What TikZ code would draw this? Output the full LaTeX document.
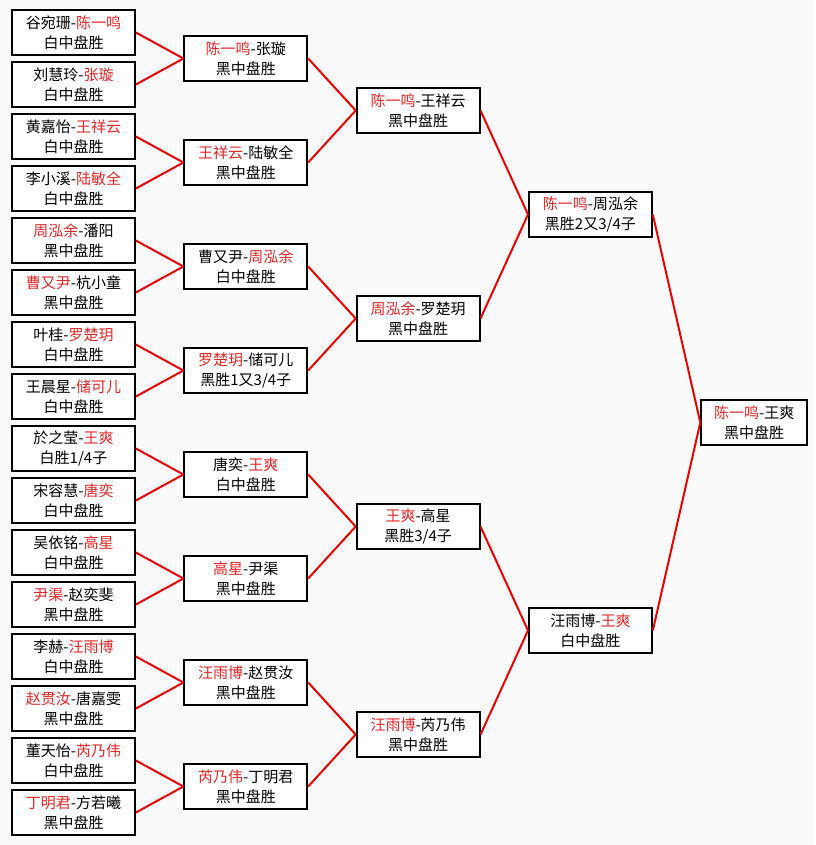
\documentclass[tikz,border=0pt]{standalone}
\usepackage{fontspec}
\setmainfont{Noto Sans CJK SC}
\usetikzlibrary{positioning,calc}
\definecolor{winred}{rgb}{0.88,0.16,0.16}
\definecolor{linkred}{rgb}{0.9,0,0}
\newcommand{\winner}[1]{\textcolor{winred}{#1}}

\begin{document}
\begin{tikzpicture}[x=1pt,y=-1pt,node distance=5.2pt,
  game/.style={draw,line width=1.8pt,fill=white,minimum width=123pt,minimum height=45pt,align=center,inner sep=1pt,font=\fontsize{15}{20}\selectfont},
  link/.style={draw=linkred,line width=2pt}]

\useasboundingbox[fill=black!2] (0,0) rectangle (815,845);

\node[game] (a1) at (73.5,32.5) {谷宛珊-\winner{陈一鸣}\\白中盘胜};
\node[game,below=of a1] (a2) {刘慧玲-\winner{张璇}\\白中盘胜};
\node[game,below=of a2] (a3) {黄嘉怡-\winner{王祥云}\\白中盘胜};
\node[game,below=of a3] (a4) {李小溪-\winner{陆敏全}\\白中盘胜};
\node[game,below=of a4] (a5) {\winner{周泓余}-潘阳\\黑中盘胜};
\node[game,below=of a5] (a6) {\winner{曹又尹}-杭小童\\黑中盘胜};
\node[game,below=of a6] (a7) {叶桂-\winner{罗楚玥}\\白中盘胜};
\node[game,below=of a7] (a8) {王晨星-\winner{储可儿}\\白中盘胜};
\node[game,below=of a8] (a9) {於之莹-\winner{王爽}\\白胜1/4子};
\node[game,below=of a9] (a10) {宋容慧-\winner{唐奕}\\白中盘胜};
\node[game,below=of a10] (a11) {吴依铭-\winner{高星}\\白中盘胜};
\node[game,below=of a11] (a12) {\winner{尹渠}-赵奕斐\\黑中盘胜};
\node[game,below=of a12] (a13) {李赫-\winner{汪雨博}\\白中盘胜};
\node[game,below=of a13] (a14) {\winner{赵贯汝}-唐嘉雯\\黑中盘胜};
\node[game,below=of a14] (a15) {董天怡-\winner{芮乃伟}\\白中盘胜};
\node[game,below=of a15] (a16) {\winner{丁明君}-方若曦\\黑中盘胜};

\node[game,anchor=west] (b1) at ($(a1.east)!0.5!(a2.east)+(47.5,0)$) {\winner{陈一鸣}-张璇\\黑中盘胜};
\node[game,anchor=west] (b2) at ($(a3.east)!0.5!(a4.east)+(47.5,0)$) {\winner{王祥云}-陆敏全\\黑中盘胜};
\node[game,anchor=west] (b3) at ($(a5.east)!0.5!(a6.east)+(47.5,0)$) {曹又尹-\winner{周泓余}\\白中盘胜};
\node[game,anchor=west] (b4) at ($(a7.east)!0.5!(a8.east)+(47.5,0)$) {\winner{罗楚玥}-储可儿\\黑胜1又3/4子};
\node[game,anchor=west] (b5) at ($(a9.east)!0.5!(a10.east)+(47.5,0)$) {唐奕-\winner{王爽}\\白中盘胜};
\node[game,anchor=west] (b6) at ($(a11.east)!0.5!(a12.east)+(47.5,0)$) {\winner{高星}-尹渠\\黑中盘胜};
\node[game,anchor=west] (b7) at ($(a13.east)!0.5!(a14.east)+(47.5,0)$) {\winner{汪雨博}-赵贯汝\\黑中盘胜};
\node[game,anchor=west] (b8) at ($(a15.east)!0.5!(a16.east)+(47.5,0)$) {\winner{芮乃伟}-丁明君\\黑中盘胜};

\node[game,anchor=west] (c1) at ($(b1.east)!0.5!(b2.east)+(47.5,0)$) {\winner{陈一鸣}-王祥云\\黑中盘胜};
\node[game,anchor=west] (c2) at ($(b3.east)!0.5!(b4.east)+(47.5,0)$) {\winner{周泓余}-罗楚玥\\黑中盘胜};
\node[game,anchor=west] (c3) at ($(b5.east)!0.5!(b6.east)+(47.5,0)$) {\winner{王爽}-高星\\黑胜3/4子};
\node[game,anchor=west] (c4) at ($(b7.east)!0.5!(b8.east)+(47.5,0)$) {\winner{汪雨博}-芮乃伟\\黑中盘胜};

\node[game,anchor=west] (d1) at ($(c1.east)!0.5!(c2.east)+(47.5,0)$) {\winner{陈一鸣}-周泓余\\黑胜2又3/4子};
\node[game,anchor=west] (d2) at ($(c3.east)!0.5!(c4.east)+(47.5,0)$) {汪雨博-\winner{王爽}\\白中盘胜};

\node[game,anchor=west,minimum width=106pt] (e1) at ($(d1.east)!0.5!(d2.east)+(47.5,0)$) {\winner{陈一鸣}-王爽\\黑中盘胜};

\foreach \from/\to/\n in {a/b/8,b/c/4,c/d/2,d/e/1}
{
\foreach \j in {1,...,\n}
{
\pgfmathtruncatemacro{\top}{2*\j-1}
\pgfmathtruncatemacro{\bot}{2*\j}
\draw[link] (\from\top.east) -- (\to\j.west);
\draw[link] (\from\bot.east) -- (\to\j.west);
}
}
\end{tikzpicture}
\end{document}
